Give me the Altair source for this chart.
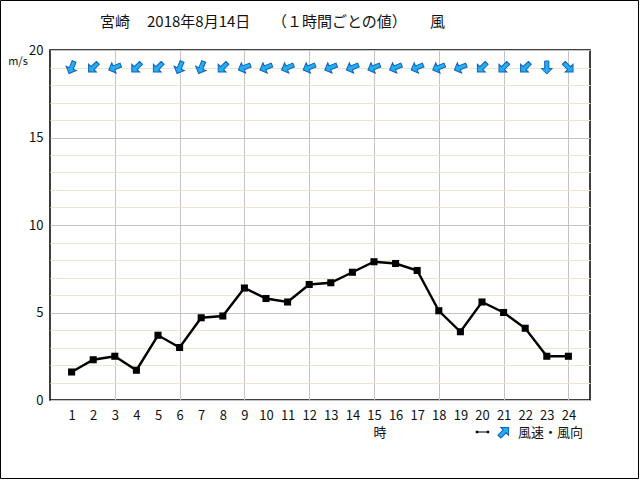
import altair as alt
import pandas as pd

hours = list(range(1, 25))
speed = [1.6, 2.3, 2.5, 1.7, 3.7, 3.0, 4.7, 4.8, 6.4, 5.8, 5.6, 6.6, 6.7, 7.3,
         7.9, 7.8, 7.4, 5.1, 3.9, 5.6, 5.0, 4.1, 2.5, 2.5]
direction = ["北北東", "北東", "東北東", "北東", "北東", "北北東", "北北東", "北東",
             "東北東", "東北東", "東北東", "東北東", "東北東", "東北東", "東北東",
             "東北東", "東北東", "東北東", "東北東", "北東", "北東", "北東", "北", "北西"]
title_parts = ["宮崎", "2018年8月14日", "（１時間ごとの値）", "風"]

compass = ["北", "北北東", "北東", "東北東", "東", "東南東", "南東", "南南東",
           "南", "南南西", "南西", "西南西", "西", "西北西", "北西", "北北西"]
deg = {name: i * 22.5 for i, name in enumerate(compass)}

df = pd.DataFrame({
    "hour": hours,
    "speed": speed,
    "dir": direction,
    "angle": [(deg[d] + 180) % 360 for d in direction],
})

FONT = "Noto Sans CJK JP"
ARROW = "M0,-1L0.85,-0.15L0.32,-0.15L0.32,1L-0.32,1L-0.32,-0.15L-0.85,-0.15Z"
AFILL = "#22aef0"
ASTROKE = "#1060c0"

xaxis = alt.Axis(
    values=hours, domain=False, ticks=False, labelPadding=9, labelAngle=0,
    labelFont=FONT, labelFontSize=13, labelColor="#111",
    gridColor="#c4c4c4",
    gridOpacity={"condition": {"test": "datum.value % 3 === 0", "value": 1}, "value": 0},
    title=None,
)
yaxis = alt.Axis(
    values=list(range(0, 21)), domain=False, ticks=False, labelPadding=7,
    labelExpr="datum.value % 5 === 0 ? datum.label : ''",
    labelFont=FONT, labelFontSize=13, labelColor="#111",
    gridColor={"condition": {"test": "datum.value % 5 === 0", "value": "#c4c4c4"},
               "value": "#efe5cc"},
    title=None,
)
xscale = alt.Scale(domain=[0, 25], nice=False)
yscale = alt.Scale(domain=[0, 20], nice=False)

xenc = alt.X("hour:Q", scale=xscale, axis=xaxis)
base = alt.Chart(df)

line = base.mark_line(color="black", strokeWidth=2.4).encode(
    x=xenc, y=alt.Y("speed:Q", scale=yscale, axis=yaxis))
pts = base.mark_point(shape="square", filled=True, size=50, color="black", opacity=1).encode(
    x=xenc, y=alt.Y("speed:Q", scale=yscale, axis=yaxis))
arrows = base.mark_point(shape=ARROW, filled=True, size=170, fill=AFILL,
                         stroke=ASTROKE, strokeWidth=1, opacity=1).encode(
    x=xenc, y=alt.YDatum(19, scale=yscale, axis=yaxis),
    angle=alt.Angle("angle:Q", scale=None))

one = alt.InlineData(values=[{"a": 1}])

def txt(s, x, y, align="left", size=13):
    return alt.Chart(one).mark_text(text=s, font=FONT, fontSize=size, align=align,
                                     baseline="middle", color="#111").encode(
        x=alt.value(x), y=alt.value(y))

title_layers = [txt(title_parts[0], 50, -28, size=15),
                txt(title_parts[1], 97, -28, size=15),
                txt(title_parts[2], 222, -28, size=15),
                txt(title_parts[3], 380, -28, size=15)]
ms = txt("m/s", -32, 12, align="center", size=11)
ji = txt("時", 330, 383, align="center", size=13)
leg_txt = txt("風速・風向", 468, 383, size=13)
leg_line = alt.Chart(one).mark_rule(color="black", strokeWidth=1).encode(
    x=alt.value(427), x2=alt.value(438), y=alt.value(382))
leg_pts = alt.Chart(alt.InlineData(values=[{"p": 427}, {"p": 438}])).mark_point(
    shape="square", filled=True, size=6, color="black", opacity=1).encode(
    x=alt.X("p:Q", scale=None), y=alt.value(382))
leg_arrow = alt.Chart(one).mark_point(shape=ARROW, filled=True, size=170, fill=AFILL,
                                      stroke=ASTROKE, strokeWidth=1, opacity=1, angle=45).encode(
    x=alt.value(454), y=alt.value(382))
border = alt.Chart(one).mark_rect(fill=None, stroke="black", strokeWidth=1).encode(
    x=alt.value(-49.5), x2=alt.value(588.5), y=alt.value(-49.5), y2=alt.value(428.5))

chart = alt.layer(line, pts, arrows, *title_layers, ms, ji, leg_line, leg_pts, leg_arrow,
                  leg_txt, border).properties(
    width=540, height=350,
    padding={"left": 50, "top": 50, "right": 50, "bottom": 80},
    autosize=alt.AutoSizeParams(type="none"),
    background="white",
).configure_view(stroke="black", strokeWidth=1.5)

chart.save("out.html", embed_options={"renderer": "svg", "actions": False})
